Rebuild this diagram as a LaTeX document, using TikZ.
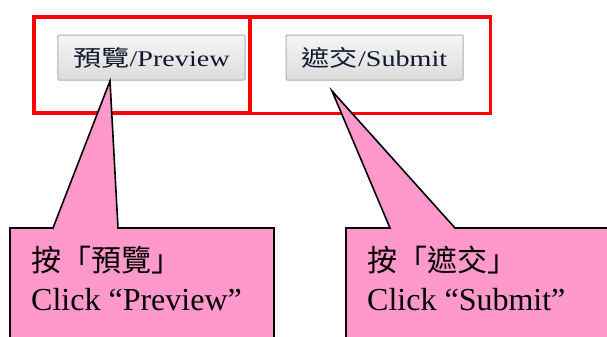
\documentclass[tikz,border=0pt]{standalone}
\usepackage{fontspec}
\setmainfont{Liberation Serif}
\newfontfamily\cjk{Noto Sans CJK TC}
\definecolor{redline}{HTML}{FF0000}
\definecolor{pinkfill}{HTML}{FF99CC}
\definecolor{btnborder}{HTML}{ADADAD}
\definecolor{btntop}{HTML}{F6F6F6}
\definecolor{btnbot}{HTML}{DCDCDC}
\definecolor{btntext}{HTML}{101830}
\tikzset{
  frame/.style={draw=redline, line width=3.5bp},
  btn/.style={draw=btnborder, line width=1bp, top color=btntop, bottom color=btnbot,
    minimum width=#1, minimum height=45bp, inner sep=0pt, rounded corners=1bp,
    text=btntext},
  callout/.style={draw=black, fill=pinkfill, line width=1.6bp, line join=miter},
  ctext/.style={anchor=base west, inner sep=0pt, font=\fontsize{32bp}{38bp}\selectfont},
}
\newcommand{\btnlabel}[2]{\scalebox{1.25}[1]{\fontsize{22.5bp}{26bp}\selectfont{\cjk #1}/#2}}
\begin{document}
\begin{tikzpicture}[x=1bp,y=-1bp]
\useasboundingbox (0,0) rectangle (607,336);
\clip (0,0) rectangle (607,336);
% red frames
\draw[frame] (34,17) rectangle (250,113);
\draw[frame] (250,17) rectangle (490.5,113.5);
% buttons
\node[btn=187bp] (bprev) at (151.5,57.5) {\btnlabel{預覽}{Preview}};
\node[btn=177bp] (bsub) at (374.5,57.5) {\btnlabel{遮交}{Submit}};
% callouts
\coordinate (tip1) at (110,81);
\coordinate (tip2) at (332,91);
\draw[callout] (10,228) -- (53,228) -- (tip1) -- (118,228) -- (274,228) -- (274,345) -- (10,345) -- cycle;
\draw[callout] (346,228) -- (390,228) -- (tip2) -- (455,228) -- (615,228) -- (615,345) -- (346,345) -- cycle;
% callout texts
\node[ctext] (t1a) at (31,271) {\cjk\fontsize{30bp}{36bp}\selectfont 按「預覽」};
\node[ctext] (t1b) at (31,310) {Click “Preview”};
\node[ctext] (t2a) at (367,271) {\cjk\fontsize{30bp}{36bp}\selectfont 按「遮交」};
\node[ctext] (t2b) at (367,310) {Click “Submit”};
\end{tikzpicture}
\end{document}
